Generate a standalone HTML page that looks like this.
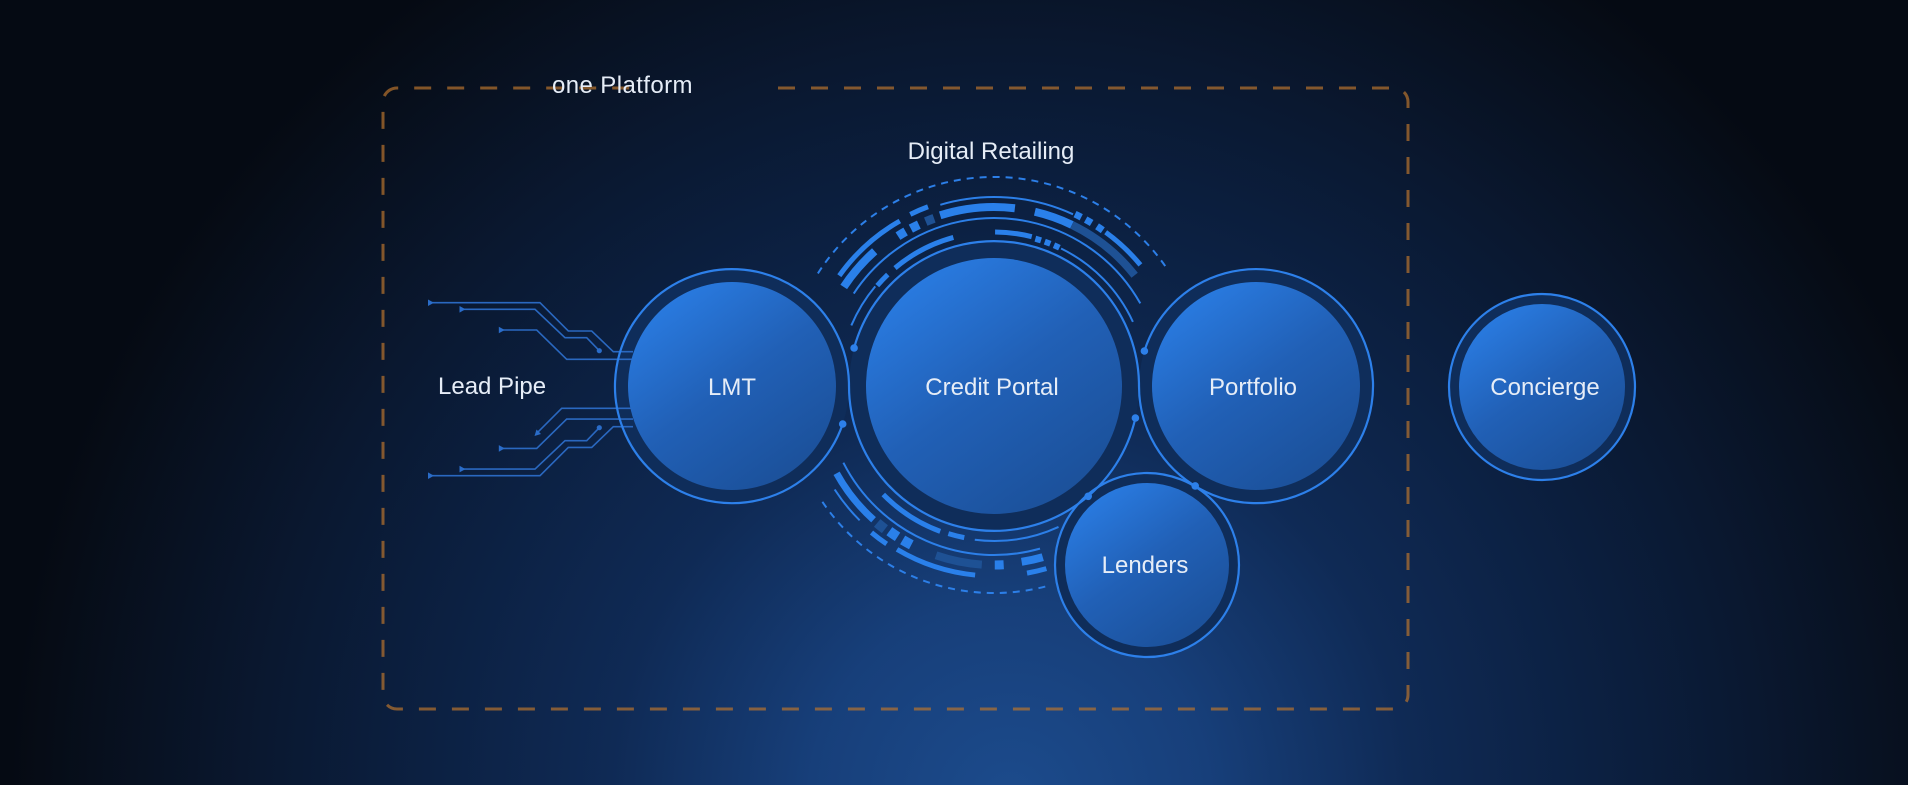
<!DOCTYPE html>
<html>
<head>
<meta charset="utf-8">
<style>
html,body{margin:0;padding:0;background:#050a13;}
svg{display:block;}
text{font-family:"Liberation Sans",sans-serif;font-size:24px;fill:#e6edf7;}
</style>
</head>
<body>
<svg width="1908" height="785" viewBox="0 0 1908 785" xmlns="http://www.w3.org/2000/svg">
<defs>
  <radialGradient id="bg" gradientUnits="userSpaceOnUse" cx="1010" cy="800" r="1000">
    <stop offset="0" stop-color="#1c4b8c"/>
    <stop offset="0.2" stop-color="#173f7a"/>
    <stop offset="0.4" stop-color="#0f2a55"/>
    <stop offset="0.63" stop-color="#0b1e3d"/>
    <stop offset="0.75" stop-color="#0a1830"/>
    <stop offset="0.97" stop-color="#060c16"/>
    <stop offset="1" stop-color="#050a13"/>
  </radialGradient>
  <linearGradient id="disk" x1="0.15" y1="0.05" x2="0.8" y2="0.95">
    <stop offset="0" stop-color="#2a7de4"/>
    <stop offset="0.5" stop-color="#2160b6"/>
    <stop offset="1" stop-color="#1b5099"/>
  </linearGradient>
</defs>

<rect x="0" y="0" width="1908" height="785" fill="url(#bg)"/>

<!-- dashed platform box -->
<path d="M 778 88 L 1394 88 A 14 14 0 0 1 1408 102 L 1408 695 A 14 14 0 0 1 1394 709 L 397 709 A 14 14 0 0 1 383 695 L 383 102 A 14 14 0 0 1 397 88 L 632 88"
      fill="none" stroke="#b8742e" stroke-opacity="0.7" stroke-width="3" stroke-dasharray="17 16"/>

<!-- decorative arcs around credit portal -->
<g fill="none" stroke="#2c7fe8" stroke-width="2">
  <path d="M 817.9 273.4 A 209 209 0 0 1 1167.7 269.7" stroke-dasharray="7 6"/>
  <path d="M 822.4 501.8 A 207 207 0 0 0 1048.6 585.7" stroke-dasharray="7 6"/>
  <!-- thin arcs top -->
  <circle cx="994" cy="386" r="189" stroke-dasharray="135.9 3000" transform="rotate(-106.5 994 386)"/>
  <circle cx="994" cy="386" r="168" stroke-dasharray="343.4 3000" transform="rotate(-146.6 994 386)"/>
  <circle cx="994" cy="386" r="155" stroke-dasharray="46 3000" transform="rotate(-157 994 386)"/>
  <circle cx="994" cy="386" r="153" stroke-dasharray="104.7 3000" transform="rotate(-64 994 386)"/>
  <!-- thin arcs bottom -->
  <circle cx="994" cy="386" r="169" stroke-dasharray="232.4 3000" transform="rotate(74.2 994 386)"/>
  <circle cx="994" cy="386" r="190" stroke-dasharray="39.8 3000" transform="rotate(135 994 386)"/>
  <circle cx="994" cy="386" r="155" stroke-dasharray="85.8 3000" transform="rotate(65.4 994 386)"/>
</g>
<g fill="none" stroke="#2a80ea">
  <!-- top bars -->
  <circle cx="994" cy="386" r="190" stroke-width="5" stroke-dasharray="82.2 3000" transform="rotate(-144.5 994 386)"/>
  <circle cx="994" cy="386" r="180" stroke-width="8" stroke-dasharray="47.4 3000" transform="rotate(-146.6 994 386)"/>
  <circle cx="994" cy="386" r="191" stroke-width="5" stroke-dasharray="19.3 3000" transform="rotate(-116 994 386)"/>
  <circle cx="994" cy="386" r="179" stroke-width="8" stroke-dasharray="75.6 3000" transform="rotate(-107.5 994 386)"/>
  <circle cx="994" cy="386" r="179" stroke-width="8" stroke-dasharray="39.4 3000" transform="rotate(-76.8 994 386)"/>
  <circle cx="994" cy="386" r="190" stroke-width="5" stroke-dasharray="47.8 3000" transform="rotate(-54 994 386)"/>
  <circle cx="994" cy="386" r="154" stroke-width="5" stroke-dasharray="37.1 3000" transform="rotate(-89.6 994 386)"/>
  <circle cx="994" cy="386" r="154" stroke-width="5" stroke-dasharray="66.4 3000" transform="rotate(-130 994 386)"/>
  <circle cx="994" cy="386" r="154" stroke-width="5" stroke-dasharray="15.3 3000" transform="rotate(-139.3 994 386)"/>
  <circle cx="994" cy="386" r="178" stroke-width="9" stroke-dasharray="9 3000" transform="rotate(-122.65 994 386)"/>
  <circle cx="994" cy="386" r="178" stroke-width="9" stroke-dasharray="9 3000" transform="rotate(-117.85 994 386)"/>
  <circle cx="994" cy="386" r="190" stroke-width="7" stroke-dasharray="7 3000" transform="rotate(-64.76 994 386)"/>
  <circle cx="994" cy="386" r="190" stroke-width="7" stroke-dasharray="7 3000" transform="rotate(-61.16 994 386)"/>
  <circle cx="994" cy="386" r="190" stroke-width="7" stroke-dasharray="7 3000" transform="rotate(-57.16 994 386)"/>
  <circle cx="994" cy="386" r="153" stroke-width="6" stroke-dasharray="6 3000" transform="rotate(-74.32 994 386)"/>
  <circle cx="994" cy="386" r="153" stroke-width="6" stroke-dasharray="6 3000" transform="rotate(-70.62 994 386)"/>
  <circle cx="994" cy="386" r="153" stroke-width="6" stroke-dasharray="6 3000" transform="rotate(-66.92 994 386)"/>
  <!-- bottom bars -->
  <circle cx="994" cy="386" r="180" stroke-width="7" stroke-dasharray="59.7 3000" transform="rotate(132 994 386)"/>
  <circle cx="994" cy="386" r="155" stroke-width="5" stroke-dasharray="68.4 3000" transform="rotate(110.3 994 386)"/>
  <circle cx="994" cy="386" r="154.5" stroke-width="5" stroke-dasharray="16.4 3000" transform="rotate(101.1 994 386)"/>
  <circle cx="994" cy="386" r="179" stroke-width="10" stroke-dasharray="10 3000" transform="rotate(122.6 994 386)"/>
  <circle cx="994" cy="386" r="179" stroke-width="10" stroke-dasharray="10 3000" transform="rotate(117.5 994 386)"/>
  <circle cx="994" cy="386" r="191" stroke-width="5" stroke-dasharray="19 3000" transform="rotate(124.2 994 386)"/>
  <circle cx="994" cy="386" r="190" stroke-width="5" stroke-dasharray="82.9 3000" transform="rotate(95.7 994 386)"/>
  <circle cx="994" cy="386" r="179" stroke-width="9" stroke-dasharray="9 3000" transform="rotate(86.9 994 386)"/>
  <circle cx="994" cy="386" r="178" stroke-width="8" stroke-dasharray="21.7 3000" transform="rotate(74.1 994 386)"/>
  <circle cx="994" cy="386" r="190" stroke-width="5" stroke-dasharray="19.9 3000" transform="rotate(74 994 386)"/>
</g>
<g fill="none" stroke="#1e5194">
  <circle cx="994" cy="386" r="178" stroke-width="9" stroke-dasharray="9 3000" transform="rotate(-112.55 994 386)"/>
  <circle cx="994" cy="386" r="179" stroke-width="8" stroke-dasharray="81.2 3000" transform="rotate(-64.2 994 386)"/>
  <circle cx="994" cy="386" r="180" stroke-width="10" stroke-dasharray="10 3000" transform="rotate(127.3 994 386)"/>
  <circle cx="994" cy="386" r="179" stroke-width="8" stroke-dasharray="46.9 3000" transform="rotate(93.9 994 386)"/>
</g>

<!-- bands -->
<g fill="#0f2d5a">
  <circle cx="732" cy="386" r="117"/>
  <circle cx="994" cy="386" r="145"/>
  <circle cx="1256" cy="386" r="117"/>
  <circle cx="1147" cy="565" r="92"/>
  <circle cx="1542" cy="387" r="93"/>
</g>

<!-- lead pipe circuit lines -->
<g fill="none" stroke="#2a68c0" stroke-width="1.6">
  <polyline points="428.3,302.7 540,302.7 568.3,331 591.7,331 613.3,351.7 633,351.7"/>
  <polyline points="460,309.3 535,309.3 565,337.7 586.7,337.7 599.3,350.7"/>
  <polyline points="499.3,330 536.7,330 566.7,359.3 633,359.3"/>
  <polyline points="428.3,475.7 540,475.7 568.3,447.4 591.7,447.4 613.3,426.7 633,426.7"/>
  <polyline points="460,469.1 535,469.1 565,440.7 586.7,440.7 599.3,427.7"/>
  <polyline points="499.3,448.4 536.7,448.4 566.7,419.1 633,419.1"/>
  <polyline points="536.7,433.3 561.7,408.3 633,408.3"/>
</g>
<g fill="#2a6cc8">
  <polygon points="428,299.5 428,306 434,302.7"/>
  <polygon points="459.5,306 459.5,312.6 465.5,309.3"/>
  <polygon points="498.8,326.7 498.8,333.3 504.8,330"/>
  <polygon points="428,472.4 428,479 434,475.7"/>
  <polygon points="459.5,465.8 459.5,472.4 465.5,469.1"/>
  <polygon points="498.8,445.1 498.8,451.7 504.8,448.4"/>
  <polygon points="534.5,436 536.5,429.5 541,434"/>
  <circle cx="599.3" cy="350.7" r="2.6"/>
  <circle cx="599.3" cy="427.7" r="2.6"/>
</g>

<!-- ring strokes -->
<g fill="none" stroke="#2d80ea" stroke-width="2.2">
  <path d="M 854.1 348 A 145 145 0 0 1 1139 386 A 117 117 0 1 0 1144.4 351"/>
  <path d="M 1135.4 418 A 145 145 0 0 1 849 386 A 117 117 0 1 0 842.7 424"/>
  <circle cx="1147" cy="565" r="92"/>
  <circle cx="1542" cy="387" r="93"/>
</g>

<!-- inner disks -->
<g fill="url(#disk)">
  <circle cx="732" cy="386" r="104"/>
  <circle cx="994" cy="386" r="128"/>
  <circle cx="1256" cy="386" r="104"/>
  <circle cx="1147" cy="565" r="82"/>
  <circle cx="1542" cy="387" r="83"/>
</g>

<!-- dots -->
<g fill="#2d80ea">
  <circle cx="854.1" cy="348" r="3.8"/>
  <circle cx="1144.4" cy="351" r="3.8"/>
  <circle cx="1135.4" cy="418" r="3.8"/>
  <circle cx="842.7" cy="424" r="3.8"/>
  <circle cx="1088.2" cy="496.3" r="3.8"/>
  <circle cx="1195.2" cy="485.9" r="3.8"/>
</g>

<!-- labels -->
<text x="552" y="93" letter-spacing="0.4">one Platform</text>
<text x="991" y="159" text-anchor="middle">Digital Retailing</text>
<text x="438" y="394">Lead Pipe</text>
<text x="732" y="395" text-anchor="middle">LMT</text>
<text x="992" y="395" text-anchor="middle">Credit Portal</text>
<text x="1253" y="395" text-anchor="middle">Portfolio</text>
<text x="1545" y="395" text-anchor="middle">Concierge</text>
<text x="1145" y="573" text-anchor="middle">Lenders</text>
</svg>
</body>
</html>
